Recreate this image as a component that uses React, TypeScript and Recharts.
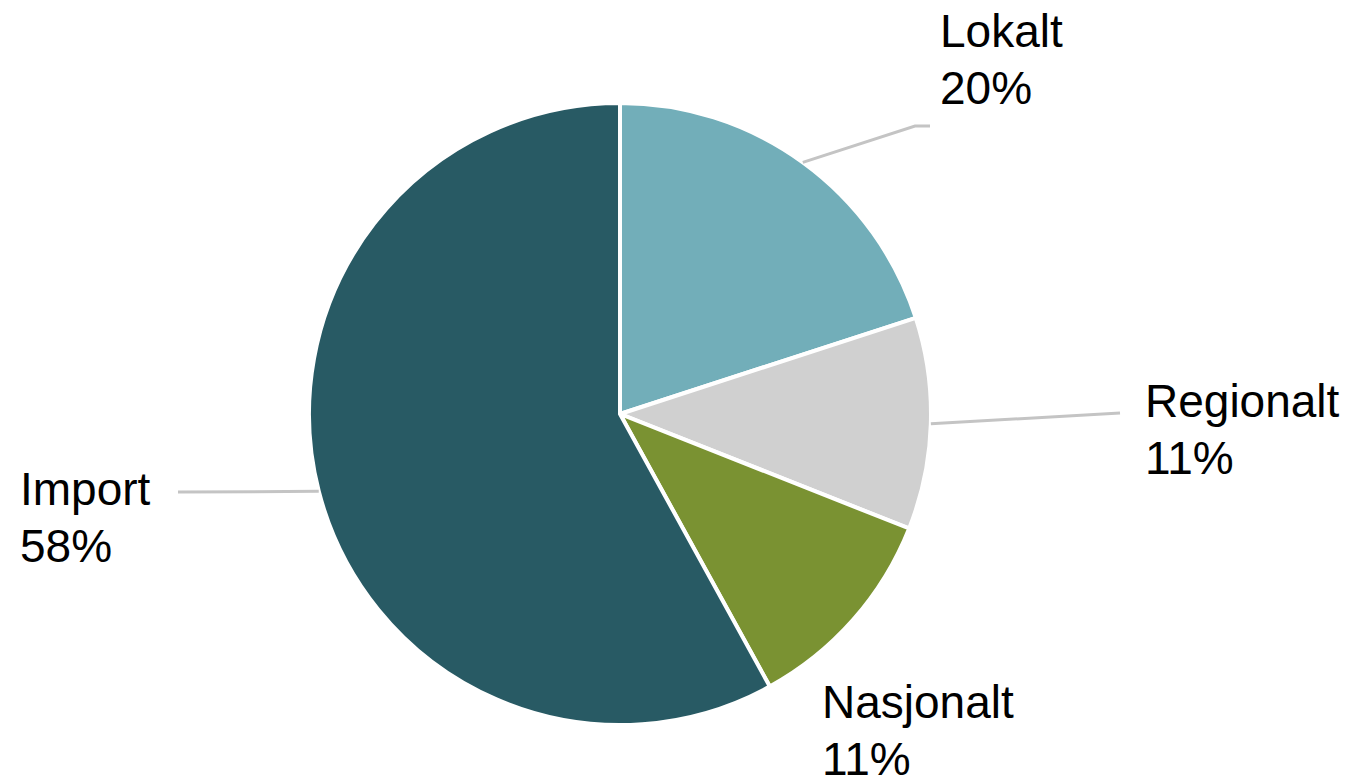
import { Pie, PieChart, Cell } from "recharts";

const CATEGORIES = ["Lokalt", "Regionalt", "Nasjonalt", "Import"];
const SHARES = [20, 11, 11, 58];

const COLORS = ["#72aeb9", "#d0d0d0", "#7a9232", "#285a64"];

// label placement relative to the pie centre: text origin, optional leader line elbow/end
const LABEL_LAYOUT = [
  { tx: 320, ty: -367, line: [[295, -288], [310, -288]] },
  { tx: 525, ty: 3, line: [[500, -1]] },
  { tx: 202, ty: 304, line: [] },
  { tx: -600, ty: 91, line: [[-442, 78]] },
];

const data = CATEGORIES.map((name, i) => ({ name, value: SHARES[i] }));

const RADIAN = Math.PI / 180;

function renderLabel(props: any) {
  const { cx, cy, midAngle, outerRadius, index, name, value } = props;
  const layout = LABEL_LAYOUT[index];
  const sx = cx + outerRadius * Math.cos(-midAngle * RADIAN);
  const sy = cy + outerRadius * Math.sin(-midAngle * RADIAN);
  const pts = [[sx, sy], ...layout.line.map(([x, y]) => [cx + x, cy + y])];
  return (
    <g key={`label-${index}`}>
      {pts.length > 1 && (
        <polyline
          points={pts.map((p) => p.join(",")).join(" ")}
          fill="none"
          stroke="#c4c4c4"
          strokeWidth={3}
        />
      )}
      <text
        x={cx + layout.tx}
        y={cy + layout.ty}
        fill="#000"
        fontSize={46}
        fontFamily="'Liberation Sans', Arial, sans-serif"
        textAnchor="start"
      >
        <tspan x={cx + layout.tx}>{name}</tspan>
        <tspan x={cx + layout.tx} dy={57}>{`${value}%`}</tspan>
      </text>
    </g>
  );
}

export default function App() {
  return (
    <div style={{ position: "absolute", left: 0, top: 0, background: "#fff" }}>
      <PieChart width={1357} height={783} margin={{ top: 0, right: 0, bottom: 0, left: 0 }}>
        <Pie
          data={data}
          dataKey="value"
          nameKey="name"
          cx={620}
          cy={414}
          outerRadius={311}
          startAngle={90}
          endAngle={-270}
          stroke="#ffffff"
          strokeWidth={4}
          label={renderLabel}
          labelLine={false}
          isAnimationActive={false}
        >
          {data.map((entry, i) => (
            <Cell key={entry.name} fill={COLORS[i]} />
          ))}
        </Pie>
      </PieChart>
    </div>
  );
}
